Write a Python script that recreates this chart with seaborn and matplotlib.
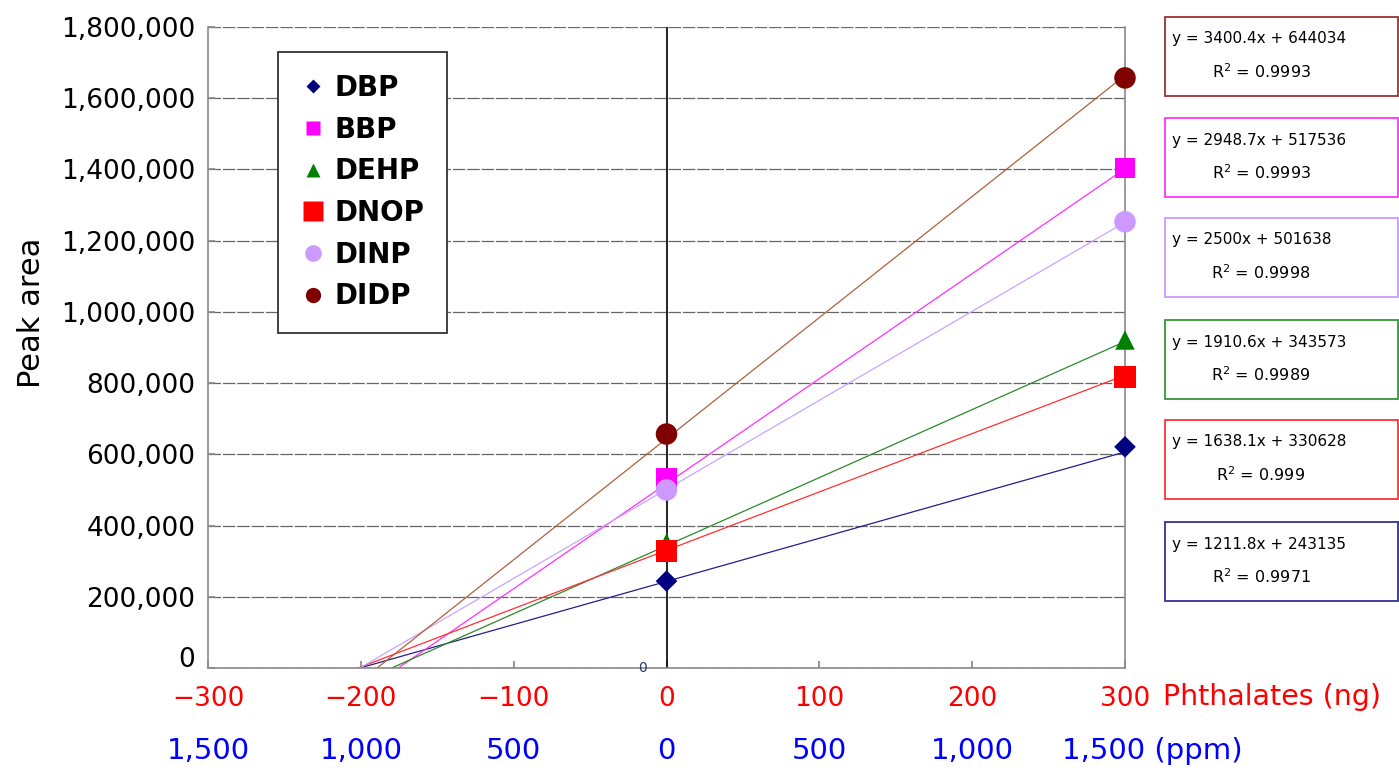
import numpy as np
import pandas as pd
import matplotlib
matplotlib.use("Agg")
import matplotlib.pyplot as plt
import seaborn as sns
from matplotlib.lines import Line2D
from matplotlib.patches import Rectangle

# ---------------- data ----------------
compounds = ["DBP", "BBP", "DEHP", "DNOP", "DINP", "DIDP"]
added_ng = [0, 300]
peak_at_0 = [244000, 533000, 351000, 328000, 500000, 657000]
peak_at_300 = [621000, 1404000, 921000, 817000, 1253000, 1657000]
slopes = [1211.8, 2948.7, 1910.6, 1638.1, 2500.0, 3400.4]
intercepts = [243135, 517536, 343573, 330628, 501638, 644034]
r_squared = ["0.9971", "0.9993", "0.9989", "0.999", "0.9998", "0.9993"]
ng_ticks = [-300, -200, -100, 0, 100, 200, 300]
ng_labels = ["\u2212300", "\u2212200", "\u2212100", "0", "100", "200", "300"]
ppm_labels = ["1,500", "1,000", "500", "0", "500", "1,000", "1,500 (ppm)"]
y_ticks = list(range(0, 1800001, 200000))

marker_colors = {"DBP": "#000080", "BBP": "#ff00ff", "DEHP": "#008000",
                 "DNOP": "#ff0000", "DINP": "#cc99ff", "DIDP": "#800000"}
line_colors = {"DBP": "#20208a", "BBP": "#ff30ff", "DEHP": "#2a8a2a",
               "DNOP": "#ff3030", "DINP": "#c8a4ff", "DIDP": "#b0603c"}
box_colors = {"DBP": "#333399", "BBP": "#ff33ff", "DEHP": "#339933",
              "DNOP": "#ff3333", "DINP": "#cc99ff", "DIDP": "#993333"}
markers = {"DBP": "D", "BBP": "s", "DEHP": "^", "DNOP": "s", "DINP": "o", "DIDP": "o"}
plot_ms = {"DBP": 11.0, "BBP": 14.5, "DEHP": 14.0, "DNOP": 15.5, "DINP": 15.5, "DIDP": 15.5}
leg_ms = {"DBP": 7.0, "BBP": 10.0, "DEHP": 10.0, "DNOP": 14.0, "DINP": 12.0, "DIDP": 11.0}

# ---------------- style ----------------
sns.set_theme(style="white")
plt.rcParams["font.family"] = ["DejaVu Sans"]
plt.rcParams["text.color"] = "black"
plt.rcParams["axes.labelcolor"] = "black"
plt.rcParams["ytick.color"] = "black"

W, H = 1399, 773
fig = plt.figure(figsize=(W / 100, H / 100), dpi=100)
ax = fig.add_axes([208 / W, 1 - 668 / H, (1125 - 208) / W, (668 - 27) / H])

# trend lines
for c, m, b in zip(compounds, slopes, intercepts):
    x0 = -b / m
    df_line = pd.DataFrame({"x": [x0, 300], "y": [0, m * 300 + b]})
    sns.lineplot(data=df_line, x="x", y="y", color=line_colors[c], lw=0.9,
                 ax=ax, legend=False, zorder=2)

# points
for c, y0, y3 in zip(compounds, peak_at_0, peak_at_300):
    df_pts = pd.DataFrame({"x": added_ng, "y": [y0, y3]})
    sns.scatterplot(data=df_pts, x="x", y="y", marker=markers[c],
                    s=plot_ms[c] ** 2, color=marker_colors[c], edgecolor="none",
                    linewidth=0, ax=ax, legend=False, zorder=3, clip_on=False)

ax.axvline(0, color="black", lw=1.2, zorder=1.5)

ax.set_xlim(-300, 300)
ax.set_ylim(0, 1800000)
ax.set_yticks(y_ticks)
ax.set_yticklabels([f"{v:,}" if v != 0 else "" for v in y_ticks])
# the zero label sits a little above its tick, as in the original
ax.annotate(f"{y_ticks[0]:,}", xy=(0, y_ticks[0]), xycoords=("axes fraction", "data"),
            xytext=(-13, 8), textcoords="offset pixels", ha="right", va="center",
            fontsize=19, color="black")
ax.set_xticks(ng_ticks)
ax.set_xticklabels(ng_labels)
ax.set_xlabel("")
ax.set_ylabel("")
fig.text(32 / W, 1 - 313 / H, "Peak area", rotation=90, ha="center",
         va="center", fontsize=22, color="black")

ax.yaxis.grid(True, color="#666666", linestyle=(0, (10, 1.5)), linewidth=0.9)
ax.xaxis.grid(False)
for s in ["left", "bottom", "right"]:
    ax.spines[s].set_color("#8a8a8a")
    ax.spines[s].set_linewidth(1.2)
ax.spines["top"].set_visible(False)

ax.tick_params(axis="y", direction="in", length=5, color="#8a8a8a",
               labelsize=19, pad=9, left=True, labelcolor="black")
ax.tick_params(axis="x", direction="in", length=5, color="#8a8a8a",
               labelsize=19, pad=13, labelcolor="#ff0000", bottom=True)

# second (ppm) axis row
for t, lab in zip(ng_ticks, ppm_labels):
    if lab.endswith("(ppm)"):
        ax.annotate(lab, xy=(t, 0), xycoords=("data", "axes fraction"),
                    xytext=(-63, -83), textcoords="offset pixels",
                    ha="left", va="center", fontsize=21, color="#0000ff")
    else:
        ax.annotate(lab, xy=(t, 0), xycoords=("data", "axes fraction"),
                    xytext=(0, -83), textcoords="offset pixels",
                    ha="center", va="center", fontsize=21, color="#0000ff")

ax.annotate("Phthalates (ng)", xy=(300, 0), xycoords=("data", "axes fraction"),
            xytext=(38, -29), textcoords="offset pixels",
            ha="left", va="center", fontsize=20.5, color="#ff0000")

ax.annotate("0", xy=(0, 0), xycoords="data", xytext=(-24, 0),
            textcoords="offset pixels", ha="center", va="center",
            fontsize=10, color="#1f3a6a")

# legend
handles = [Line2D([0], [0], marker=markers[c], color="none",
                  markerfacecolor=marker_colors[c], markeredgecolor="none",
                  markersize=leg_ms[c], label=c) for c in compounds]
leg = ax.legend(handles=handles, loc="upper left",
                bbox_to_anchor=((278 - 208) / 917, (668 - 52) / 641),
                borderaxespad=0, frameon=True, fancybox=False,
                prop={"weight": "bold", "size": 20}, labelspacing=0.49,
                handlelength=0.9, handletextpad=0.35, borderpad=0.8,
                edgecolor="#333333", framealpha=1, labelcolor="black")
leg.get_frame().set_linewidth(1.3)

# equation boxes
order = sorted(range(len(compounds)), key=lambda i: -slopes[i])
box_tops = [17, 118, 218, 320, 420, 522]
for top, i in zip(box_tops, order):
    c = compounds[i]
    fig.add_artist(Rectangle((1165 / W, 1 - (top + 79) / H), 233 / W, 79 / H,
                             transform=fig.transFigure, fill=False,
                             edgecolor=box_colors[c], lw=1.3))
    eq = f"y = {slopes[i]:g}x + {intercepts[i]}"
    fig.text(1172 / W, 1 - (top + 22) / H, eq, fontsize=11, ha="left",
             va="center", color="black")
    fig.text(1261 / W, 1 - (top + 55) / H, "R$^{2}$ = " + r_squared[i],
             fontsize=11.5, ha="center", va="center", color="black")

fig.savefig("out.png", dpi=100)
